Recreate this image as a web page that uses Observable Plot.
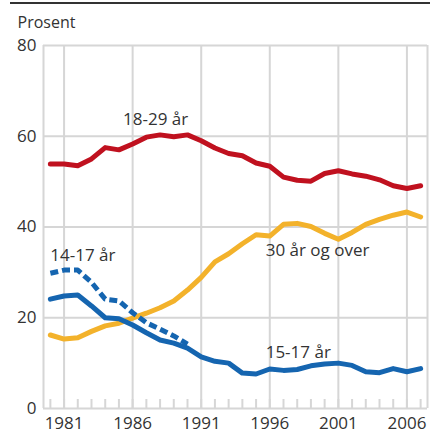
<!DOCTYPE html>
<html>
<head>
<meta charset="utf-8">
<script src="https://cdn.jsdelivr.net/npm/d3@7"></script>
<script src="https://cdn.jsdelivr.net/npm/@observablehq/plot@0.6"></script>
<style>
  html, body { margin: 0; padding: 0; background: #fff; }
  #wrap { position: relative; width: 430px; height: 434px; }
  #topline { position: absolute; left: 10px; top: 2px; width: 420px; height: 0; border-top: 2px solid #333; }
  svg { font-family: "Open Sans", sans-serif; }
</style>
</head>
<body>
<div id="wrap"><div id="topline"></div></div>
<script>
const years = d3.range(1980, 2008);
const age1829 = [53.9, 53.9, 53.5, 55.0, 57.5, 57.0, 58.3, 59.8, 60.3, 59.9, 60.3, 59.0, 57.4, 56.2, 55.7, 54.1, 53.4, 51.0, 50.3, 50.1, 51.8, 52.4, 51.7, 51.2, 50.4, 49.1, 48.5, 49.1];
const age30 = [16.2, 15.3, 15.6, 17.0, 18.2, 18.8, 19.9, 21.0, 22.2, 23.7, 26.1, 28.9, 32.3, 34.1, 36.3, 38.3, 38.0, 40.6, 40.8, 40.1, 38.6, 37.3, 38.8, 40.6, 41.7, 42.6, 43.3, 42.2];
const age1517 = [24.1, 24.8, 25.0, 22.6, 20.0, 19.8, 18.4, 16.7, 15.1, 14.4, 13.3, 11.4, 10.4, 10.0, 7.8, 7.6, 8.7, 8.4, 8.6, 9.4, 9.8, 10.0, 9.5, 8.1, 7.9, 8.8, 8.1, 8.8];
const years1417 = d3.range(1980, 1991);
const age1417 = [29.8, 30.5, 30.5, 27.8, 24.1, 23.7, 21.1, 18.9, 17.5, 16.0, 14.2];
const yTicks = [0, 20, 40, 60, 80];
const xTicks = [1981, 1986, 1991, 1996, 2001, 2006];
const seriesLabels = [
  {text: "18-29 år", year: 1985.3, value: 63.6},
  {text: "14-17 år", year: 1980.0, value: 33.6},
  {text: "30 år og over", year: 1995.7, value: 34.8},
  {text: "15-17 år", year: 1995.7, value: 12.4}
];

const toRows = (xs, vs) => xs.map((x, i) => ({year: x, value: vs[i]}));
const grid = "#d6d6d6";
const text = "#333";

const chart = Plot.plot({
  width: 430,
  height: 434,
  marginLeft: 43,
  marginRight: 3,
  marginTop: 45,
  marginBottom: 26,
  style: {fontFamily: "'Open Sans', sans-serif", fontSize: "17px", color: text, background: "transparent"},
  x: {domain: [1979.5, 2007.5]},
  y: {domain: [0, 80]},
  marks: [
    Plot.ruleY(yTicks, {stroke: grid, strokeWidth: 2}),
    Plot.ruleX([...xTicks, 1979.5, 2007.5], {stroke: grid, strokeWidth: 2}),
    Plot.axisX({ticks: years, tickSize: -9, tickFormat: () => "", stroke: grid, strokeWidth: 2, strokeOpacity: 1, label: null}),
    Plot.axisX({ticks: xTicks, tickSize: 0, tickPadding: 8, tickFormat: d => String(d), fill: text, fontSize: 17, label: null}),
    Plot.axisY({ticks: yTicks, tickSize: 0, tickPadding: 7, fill: text, fontSize: 17, label: null}),
    Plot.text(["Prosent"], {frameAnchor: "top-left", dx: -26, dy: -29, textAnchor: "start", fill: text, fontSize: 16}),
    Plot.line(toRows(years, age30), {x: "year", y: "value", stroke: "#f3b22b", strokeWidth: 5}),
    Plot.line(toRows(years, age1517), {x: "year", y: "value", stroke: "#1565b0", strokeWidth: 5}),
    Plot.line(toRows(years1417, age1417), {x: "year", y: "value", stroke: "#1565b0", strokeWidth: 5, strokeDasharray: "8,4", strokeLinecap: "butt"}),
    Plot.line(toRows(years, age1829), {x: "year", y: "value", stroke: "#c0111f", strokeWidth: 5}),
    Plot.text(seriesLabels, {x: "year", y: "value", text: "text", textAnchor: "start", fill: text, fontSize: 17})
  ]
});
document.getElementById("wrap").appendChild(chart);
chart.style.position = "absolute";
chart.style.left = "0";
chart.style.top = "0";
</script>
</body>
</html>
